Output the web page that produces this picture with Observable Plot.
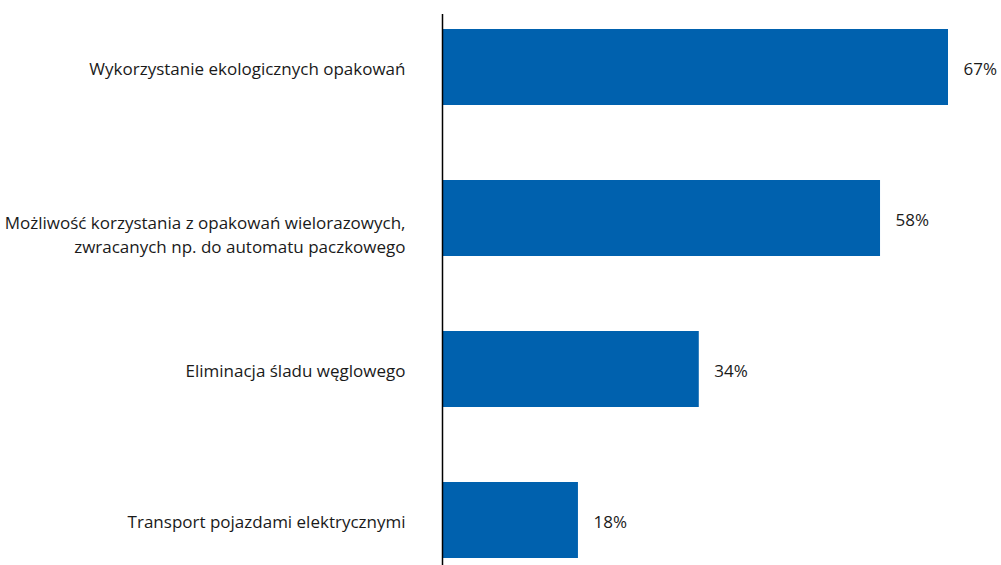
<!DOCTYPE html>
<html>
<head>
<meta charset="utf-8">
<script src="https://cdn.jsdelivr.net/npm/d3@7"></script>
<script src="https://cdn.jsdelivr.net/npm/@observablehq/plot@0.6"></script>
<style>
  html, body { margin: 0; padding: 0; background: #fff; }
  #chart svg { display: block; }
</style>
</head>
<body>
<div id="chart"></div>
<script>
const categories = [
  "Wykorzystanie ekologicznych opakowań",
  "Możliwość korzystania z opakowań wielorazowych,\nzwracanych np. do automatu paczkowego",
  "Eliminacja śladu węglowego",
  "Transport pojazdami elektrycznymi"
];
const values = [67, 58, 34, 18];
const valueLabels = ["67%", "58%", "34%", "18%"];

const data = categories.map((c, i) => ({category: c, value: values[i], label: valueLabels[i]}));
const single = data.filter(d => !d.category.includes("\n"));
const multi = data.filter(d => d.category.includes("\n"));

const chart = Plot.plot({
  width: 1001,
  height: 565,
  marginLeft: 442,
  marginRight: 53,
  marginTop: 14,
  marginBottom: 0,
  style: {fontFamily: "'Open Sans', sans-serif", fontSize: "17px", color: "#1a1a1a", background: "#fff"},
  x: {domain: [0, 67], axis: null},
  y: {domain: categories, range: [-9, 596], paddingInner: 0.5, paddingOuter: 0.25, axis: null},
  marks: [
    Plot.barX(data, {x: "value", y: "category", fill: "#0061ae"}),
    Plot.ruleX([0], {stroke: "#000", strokeWidth: 1.5}),
    Plot.text(single, {x: 0, y: "category", text: "category", textAnchor: "end", dx: -37, dy: 2, fill: "#1a1a1a", fontSize: 17}),
    Plot.text(multi, {x: 0, y: "category", text: "category", textAnchor: "end", dx: -37, dy: 15, lineHeight: 1.38, fill: "#1a1a1a", fontSize: 17}),
    Plot.text(data, {x: "value", y: "category", text: "label", textAnchor: "start", dx: 15, dy: 2, fill: "#1a1a1a", fontSize: 17})
  ]
});
document.getElementById("chart").appendChild(chart);
</script>
</body>
</html>
